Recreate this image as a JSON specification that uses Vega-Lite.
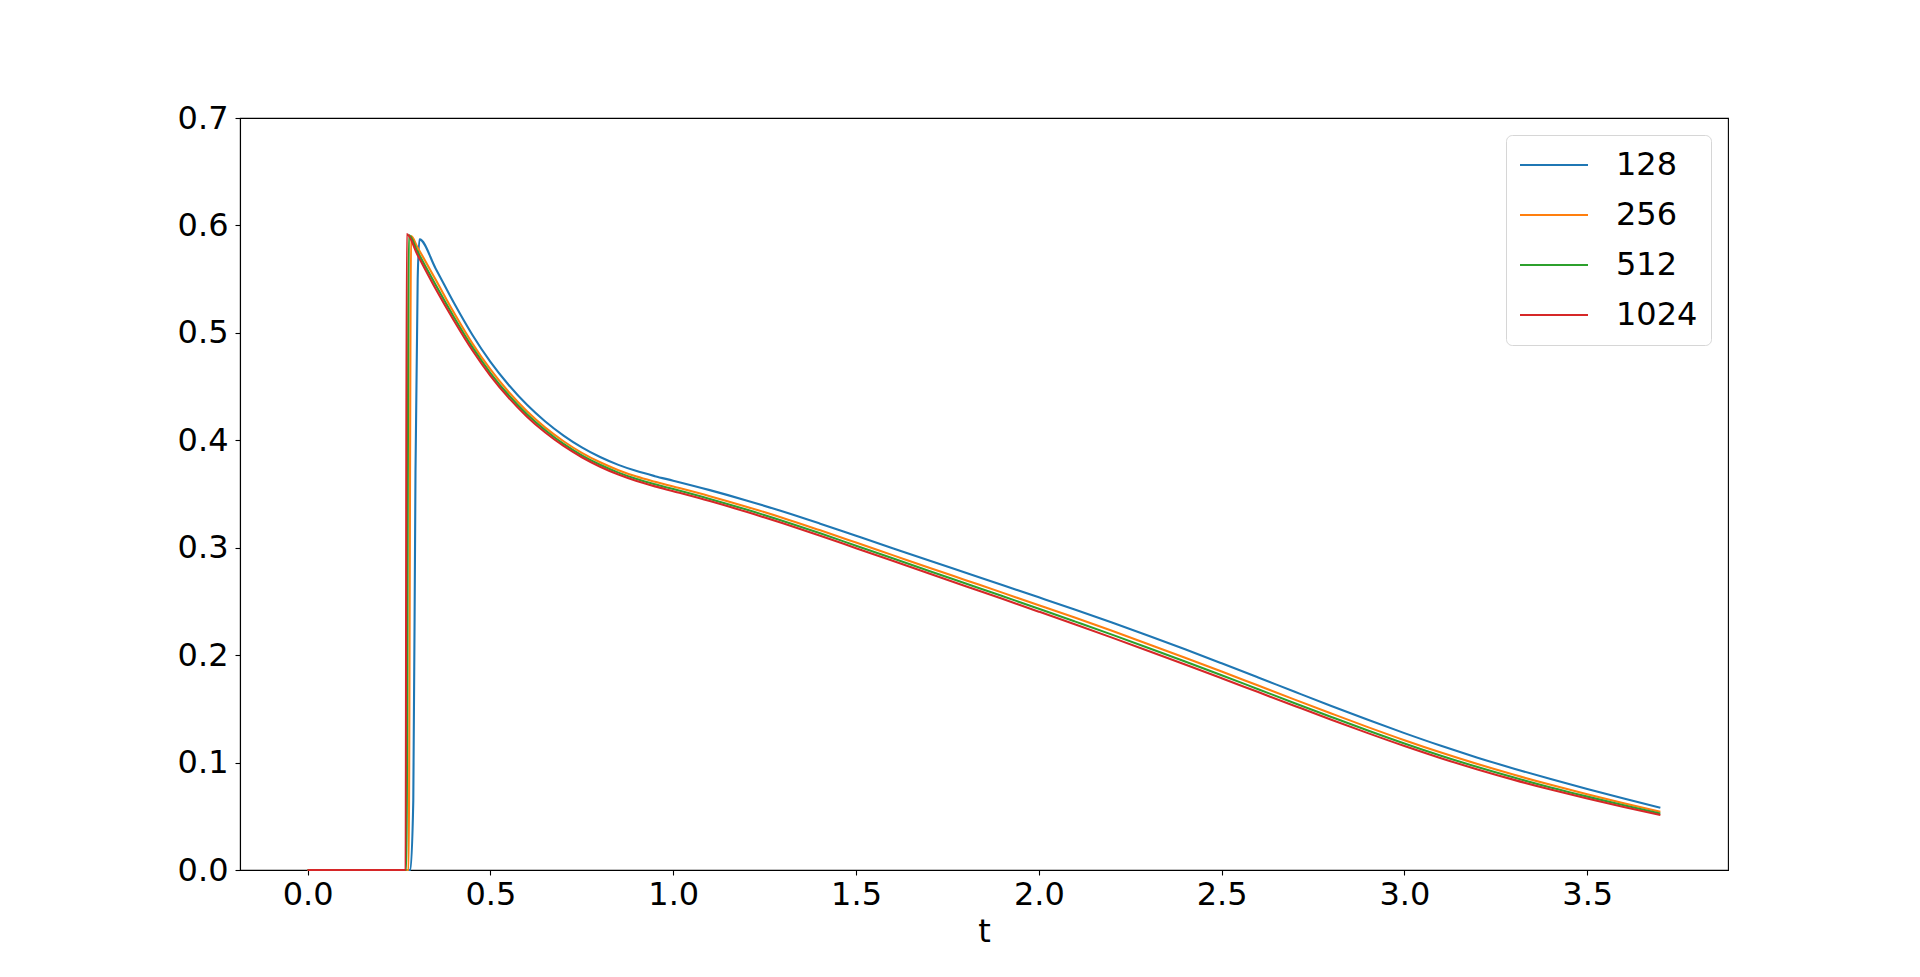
{
  "$schema": "https://vega.github.io/schema/vega-lite/v6.json",
  "autosize": {"type": "none"},
  "width": 1488,
  "height": 752,
  "padding": {"left": 240, "top": 118, "right": 192, "bottom": 107},
  "background": "white",
  "config": {
    "font": "DejaVu Sans",
    "view": {"stroke": "black", "strokeWidth": 1.1},
    "axis": {"grid": false, "domainColor": "black", "tickColor": "black", "labelColor": "black", "titleColor": "black", "domainWidth": 1.1, "tickWidth": 1.1, "tickSize": 5, "labelFontSize": 32, "titleFontSize": 32, "titleFontWeight": "normal"}
  },
  "data": {"values": [
    {"n":"128","t":0,"v":0},{"n":"128","t":0.281,"v":0},{"n":"128","t":0.289,"v":0.065},{"n":"128","t":0.295,"v":0.37},{"n":"128","t":0.301,"v":0.55},{"n":"128","t":0.306,"v":0.587},{"n":"128","t":0.35,"v":0.56},{"n":"128","t":0.4,"v":0.528},{"n":"128","t":0.45,"v":0.4985},{"n":"128","t":0.5,"v":0.473},{"n":"128","t":0.55,"v":0.4515},{"n":"128","t":0.6,"v":0.433},{"n":"128","t":0.65,"v":0.4175},{"n":"128","t":0.7,"v":0.4044},{"n":"128","t":0.75,"v":0.3934},{"n":"128","t":0.8,"v":0.3844},{"n":"128","t":0.85,"v":0.3771},{"n":"128","t":0.9,"v":0.3713},{"n":"128","t":0.95,"v":0.3666},{"n":"128","t":1.0,"v":0.3624},{"n":"128","t":1.1,"v":0.3536},{"n":"128","t":1.2,"v":0.344},{"n":"128","t":1.3,"v":0.3337},{"n":"128","t":1.4,"v":0.3226},{"n":"128","t":1.5,"v":0.3111},{"n":"128","t":1.6,"v":0.2996},{"n":"128","t":1.7,"v":0.2881},{"n":"128","t":1.8,"v":0.2767},{"n":"128","t":1.9,"v":0.2653},{"n":"128","t":2.0,"v":0.2538},{"n":"128","t":2.1,"v":0.2422},{"n":"128","t":2.2,"v":0.2303},{"n":"128","t":2.3,"v":0.218},{"n":"128","t":2.4,"v":0.2054},{"n":"128","t":2.5,"v":0.1924},{"n":"128","t":2.6,"v":0.1792},{"n":"128","t":2.7,"v":0.1659},{"n":"128","t":2.8,"v":0.1527},{"n":"128","t":2.9,"v":0.1398},{"n":"128","t":3.0,"v":0.1274},{"n":"128","t":3.1,"v":0.1156},{"n":"128","t":3.2,"v":0.1046},{"n":"128","t":3.3,"v":0.0943},{"n":"128","t":3.4,"v":0.0846},{"n":"128","t":3.5,"v":0.0754},{"n":"128","t":3.6,"v":0.0665},{"n":"128","t":3.7,"v":0.0579},
    {"n":"256","t":0,"v":0},{"n":"256","t":0.276,"v":0},{"n":"256","t":0.283,"v":0.59},{"n":"256","t":0.3,"v":0.58},{"n":"256","t":0.35,"v":0.5496},{"n":"256","t":0.4,"v":0.5189},{"n":"256","t":0.45,"v":0.4905},{"n":"256","t":0.5,"v":0.4659},{"n":"256","t":0.55,"v":0.4449},{"n":"256","t":0.6,"v":0.427},{"n":"256","t":0.65,"v":0.4118},{"n":"256","t":0.7,"v":0.3991},{"n":"256","t":0.75,"v":0.3883},{"n":"256","t":0.8,"v":0.3795},{"n":"256","t":0.85,"v":0.3722},{"n":"256","t":0.9,"v":0.3662},{"n":"256","t":0.95,"v":0.3614},{"n":"256","t":1.0,"v":0.357},{"n":"256","t":1.1,"v":0.348},{"n":"256","t":1.2,"v":0.3382},{"n":"256","t":1.3,"v":0.3277},{"n":"256","t":1.4,"v":0.3164},{"n":"256","t":1.5,"v":0.3048},{"n":"256","t":1.6,"v":0.2931},{"n":"256","t":1.7,"v":0.2814},{"n":"256","t":1.8,"v":0.2698},{"n":"256","t":1.9,"v":0.2582},{"n":"256","t":2.0,"v":0.2465},{"n":"256","t":2.1,"v":0.2347},{"n":"256","t":2.2,"v":0.2226},{"n":"256","t":2.3,"v":0.2102},{"n":"256","t":2.4,"v":0.1976},{"n":"256","t":2.5,"v":0.1848},{"n":"256","t":2.6,"v":0.1717},{"n":"256","t":2.7,"v":0.1586},{"n":"256","t":2.8,"v":0.1457},{"n":"256","t":2.9,"v":0.133},{"n":"256","t":3.0,"v":0.1208},{"n":"256","t":3.1,"v":0.1093},{"n":"256","t":3.2,"v":0.0986},{"n":"256","t":3.3,"v":0.0886},{"n":"256","t":3.4,"v":0.0793},{"n":"256","t":3.5,"v":0.0705},{"n":"256","t":3.6,"v":0.0622},{"n":"256","t":3.7,"v":0.0542},
    {"n":"512","t":0,"v":0},{"n":"512","t":0.27,"v":0},{"n":"512","t":0.277,"v":0.591},{"n":"512","t":0.3,"v":0.576},{"n":"512","t":0.35,"v":0.5448},{"n":"512","t":0.4,"v":0.5148},{"n":"512","t":0.45,"v":0.4869},{"n":"512","t":0.5,"v":0.4626},{"n":"512","t":0.55,"v":0.4419},{"n":"512","t":0.6,"v":0.4242},{"n":"512","t":0.65,"v":0.4093},{"n":"512","t":0.7,"v":0.3966},{"n":"512","t":0.75,"v":0.386},{"n":"512","t":0.8,"v":0.3772},{"n":"512","t":0.85,"v":0.3699},{"n":"512","t":0.9,"v":0.3639},{"n":"512","t":0.95,"v":0.359},{"n":"512","t":1.0,"v":0.3546},{"n":"512","t":1.1,"v":0.3454},{"n":"512","t":1.2,"v":0.3355},{"n":"512","t":1.3,"v":0.3249},{"n":"512","t":1.4,"v":0.3136},{"n":"512","t":1.5,"v":0.3019},{"n":"512","t":1.6,"v":0.2902},{"n":"512","t":1.7,"v":0.2784},{"n":"512","t":1.8,"v":0.2667},{"n":"512","t":1.9,"v":0.255},{"n":"512","t":2.0,"v":0.2432},{"n":"512","t":2.1,"v":0.2312},{"n":"512","t":2.2,"v":0.2191},{"n":"512","t":2.3,"v":0.2067},{"n":"512","t":2.4,"v":0.1941},{"n":"512","t":2.5,"v":0.1813},{"n":"512","t":2.6,"v":0.1683},{"n":"512","t":2.7,"v":0.1553},{"n":"512","t":2.8,"v":0.1425},{"n":"512","t":2.9,"v":0.1299},{"n":"512","t":3.0,"v":0.1178},{"n":"512","t":3.1,"v":0.1064},{"n":"512","t":3.2,"v":0.0958},{"n":"512","t":3.3,"v":0.086},{"n":"512","t":3.4,"v":0.0768},{"n":"512","t":3.5,"v":0.0683},{"n":"512","t":3.6,"v":0.0602},{"n":"512","t":3.7,"v":0.0525},
    {"n":"1024","t":0,"v":0},{"n":"1024","t":0.268,"v":0},{"n":"1024","t":0.271,"v":0.592},{"n":"1024","t":0.3,"v":0.573},{"n":"1024","t":0.35,"v":0.541},{"n":"1024","t":0.4,"v":0.5115},{"n":"1024","t":0.45,"v":0.484},{"n":"1024","t":0.5,"v":0.46},{"n":"1024","t":0.55,"v":0.4395},{"n":"1024","t":0.6,"v":0.422},{"n":"1024","t":0.65,"v":0.4072},{"n":"1024","t":0.7,"v":0.3947},{"n":"1024","t":0.75,"v":0.3842},{"n":"1024","t":0.8,"v":0.3754},{"n":"1024","t":0.85,"v":0.3681},{"n":"1024","t":0.9,"v":0.3621},{"n":"1024","t":0.95,"v":0.3571},{"n":"1024","t":1.0,"v":0.3526},{"n":"1024","t":1.1,"v":0.3434},{"n":"1024","t":1.2,"v":0.3334},{"n":"1024","t":1.3,"v":0.3227},{"n":"1024","t":1.4,"v":0.3114},{"n":"1024","t":1.5,"v":0.2996},{"n":"1024","t":1.6,"v":0.2878},{"n":"1024","t":1.7,"v":0.276},{"n":"1024","t":1.8,"v":0.2642},{"n":"1024","t":1.9,"v":0.2524},{"n":"1024","t":2.0,"v":0.2405},{"n":"1024","t":2.1,"v":0.2285},{"n":"1024","t":2.2,"v":0.2163},{"n":"1024","t":2.3,"v":0.2039},{"n":"1024","t":2.4,"v":0.1913},{"n":"1024","t":2.5,"v":0.1785},{"n":"1024","t":2.6,"v":0.1656},{"n":"1024","t":2.7,"v":0.1527},{"n":"1024","t":2.8,"v":0.1399},{"n":"1024","t":2.9,"v":0.1274},{"n":"1024","t":3.0,"v":0.1154},{"n":"1024","t":3.1,"v":0.1041},{"n":"1024","t":3.2,"v":0.0936},{"n":"1024","t":3.3,"v":0.0839},{"n":"1024","t":3.4,"v":0.0749},{"n":"1024","t":3.5,"v":0.0665},{"n":"1024","t":3.6,"v":0.0586},{"n":"1024","t":3.7,"v":0.0511}
  ]},
  "mark": {"type": "line", "strokeWidth": 2.1, "interpolate": "monotone"},
  "encoding": {
    "x": {"field": "t", "type": "quantitative", "scale": {"domain": [-0.185, 3.885], "nice": false, "zero": false},
      "axis": {"title": "t", "values": [0, 0.5, 1, 1.5, 2, 2.5, 3, 3.5], "format": ".1f", "labelPadding": 4, "titlePadding": 6}},
    "y": {"field": "v", "type": "quantitative", "scale": {"domain": [0, 0.7], "nice": false},
      "axis": {"title": null, "values": [0, 0.1, 0.2, 0.3, 0.4, 0.5, 0.6, 0.7], "format": ".1f", "labelPadding": 7}},
    "color": {"field": "n", "type": "nominal", "sort": null,
      "scale": {"domain": ["128", "256", "512", "1024"], "range": ["#1f77b4", "#ff7f0e", "#2ca02c", "#d62728"]},
      "legend": {"title": null, "orient": "top-right", "offset": 17, "padding": 13, "strokeColor": "#d6d6d6", "cornerRadius": 6, "fillColor": "white",
        "symbolType": "stroke", "symbolSize": 4624, "symbolStrokeWidth": 2, "labelFontSize": 32, "labelColor": "black", "labelOffset": 27, "clipHeight": 34, "rowPadding": 16}}
  }
}
